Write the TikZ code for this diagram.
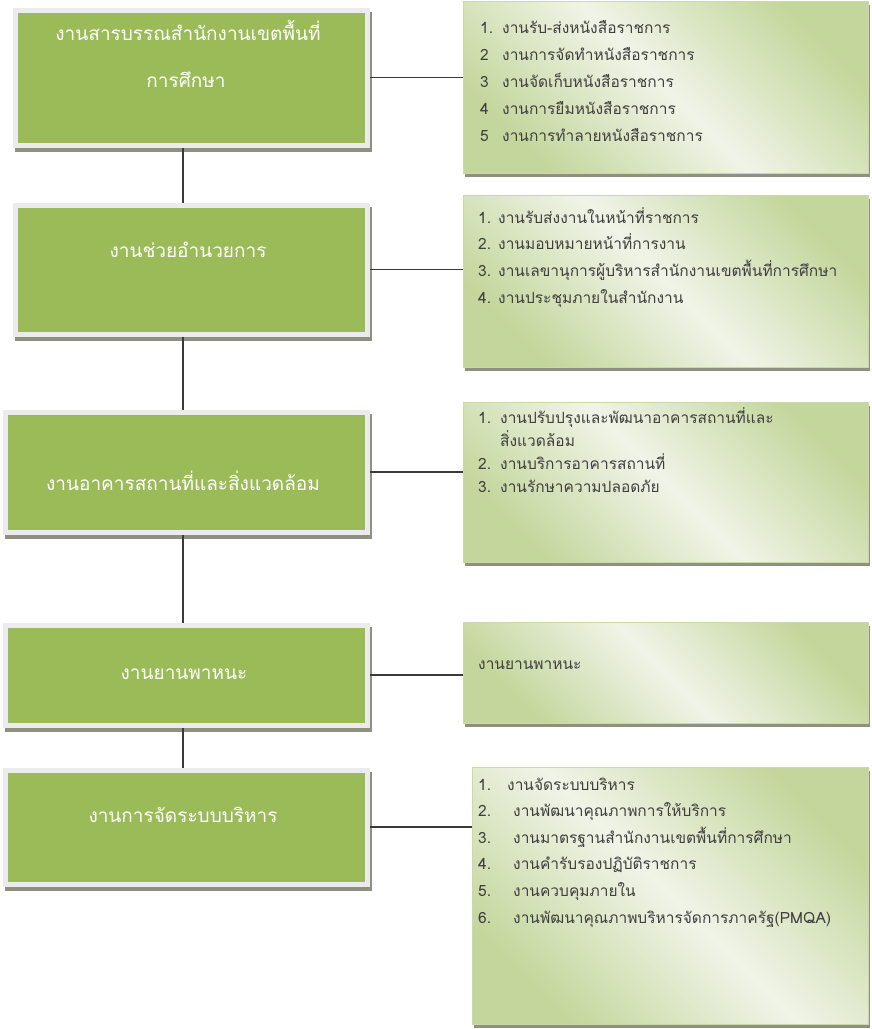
\documentclass[tikz,border=0pt]{standalone}
\usepackage{fontspec}
\newfontfamily\thaifont[Script=Thai]{Loma}
\usetikzlibrary{positioning}
\definecolor{headgreen}{HTML}{9BBB59}
\definecolor{framegray}{HTML}{EBEBEB}
\definecolor{shadowgray}{HTML}{8E9080}
\definecolor{listgreen}{HTML}{C3D69B}
\definecolor{listlight}{HTML}{F0F4E8}
\definecolor{listedge}{HTML}{C9DAA8}
\definecolor{textgray}{HTML}{3F3F3F}
\definecolor{linegray}{HTML}{3A3A3A}
\tikzstyle{link} = [draw=linegray, line width=1.3pt]
\tikzstyle{head} = [draw=framegray, line width=5pt, fill=headgreen, inner sep=0pt,
  preaction={draw=shadowgray, fill=shadowgray, transform canvas={xshift=2pt,yshift=-4pt}}]
\tikzstyle{list} = [draw=listedge, line width=1pt, inner sep=0pt,
  top color=listgreen, bottom color=listgreen, middle color=listlight, shading angle=-45,
  preaction={fill=shadowgray, transform canvas={xshift=1pt,yshift=-3pt}}]

\begin{document}
\begin{tikzpicture}[x=1pt,y=-1pt]
\tikzset{title/.style={text=white,font=\thaifont\fontsize{19}{23}\selectfont,anchor=base,inner sep=0pt},
item/.style={text=textgray,font=\thaifont\fontsize{15.5}{18}\selectfont,anchor=base west,inner sep=0pt}}
\useasboundingbox (0,0) rectangle (871,1029);
\coordinate (spine) at (183,0);

% left boxes
\node[head,minimum width=352pt,minimum height=135pt,anchor=north west] (sarabun) at (12.5,7.5) {};
\node[head,minimum width=352pt,minimum height=129pt,anchor=north west] (chuay) at (12.5,202.5) {};
\node[head,minimum width=362pt,minimum height=120pt,anchor=north west] (akarn) at (2.5,409.5) {};
\node[head,minimum width=362pt,minimum height=100pt,anchor=north west] (yanpa) at (2.5,622.5) {};
\node[head,minimum width=362pt,minimum height=114pt,anchor=north west] (rabob) at (2.5,767.5) {};

\node[title] (sarabun-t1) at (188,40.5) {งานสารบรรณสำนักงานเขตพื้นที่};
\node[title] (sarabun-t2) at (186,87.5) {การศึกษา};
\node[title] (chuay-t) at (188,257.5) {งานช่วยอำนวยการ};
\node[title] (akarn-t) at (183,490.5) {งานอาคารสถานที่และสิ่งแวดล้อม};
\node[title] (yanpa-t) at (184,679.5) {งานยานพาหนะ};
\node[title] (rabob-t) at (183,822.5) {งานการจัดระบบบริหาร};

% right boxes
\node[list,minimum width=405pt,minimum height=172pt,anchor=north west] (sarabunlist) at (463,1) {};
\node[list,minimum width=405pt,minimum height=172pt,anchor=north west] (chuaylist) at (463,195) {};
\node[list,minimum width=405pt,minimum height=160pt,anchor=north west] (akarnlist) at (463,402) {};
\node[list,minimum width=405pt,minimum height=101pt,anchor=north west] (yanpalist) at (463,622) {};
\node[list,minimum width=396pt,minimum height=257pt,anchor=north west] (raboblist) at (472,767) {};

\foreach \n/\t [count=\i from 0] in {1./งานรับ-ส่งหนังสือราชการ, 2/งานการจัดทำหนังสือราชการ,
  3/งานจัดเก็บหนังสือราชการ, 4/งานการยืมหนังสือราชการ, 5/งานการทำลายหนังสือราชการ} {
\node[item] (sarabun-\i) at (480,33+27*\i) {\makebox[22pt][l]{\n}\t}; }

\foreach \n/\t [count=\i from 0] in {1./งานรับส่งงานในหน้าที่ราชการ, 2./งานมอบหมายหน้าที่การงาน,
  3./งานเลขานุการผู้บริหารสำนักงานเขตพื้นที่การศึกษา, 4./งานประชุมภายในสำนักงาน} {
\node[item] (chuay-\i) at (478,223+26.7*\i) {\makebox[20pt][l]{\n}\t}; }

\foreach \n/\t [count=\i from 0] in {1./งานปรับปรุงและพัฒนาอาคารสถานที่และ, {}/สิ่งแวดล้อม,
  2./งานบริการอาคารสถานที่, 3./งานรักษาความปลอดภัย} {
\node[item] (akarn-\i) at (478,423+23*\i) {\makebox[22pt][l]{\n}\t}; }

\node[item] (yanpa-0) at (478,669) {งานยานพาหนะ};

\node[item] (rabob-0) at (478,790) {\makebox[29pt][l]{1.}งานจัดระบบบริหาร};
\foreach \n/\t [count=\i] in {2./งานพัฒนาคุณภาพการให้บริการ, 3./งานมาตรฐานสำนักงานเขตพื้นที่การศึกษา,
  4./งานคำรับรองปฏิบัติราชการ, 5./งานควบคุมภายใน, 6./งานพัฒนาคุณภาพบริหารจัดการภาครัฐ(PMQA)} {
\node[item] (rabob-\i) at (478,790+26.6*\i) {\makebox[35pt][l]{\n}\t}; }

% connectors
\draw[link] (sarabun.east) -- (sarabun.east -| sarabunlist.west);
\draw[link] (chuay.east) -- (chuay.east -| chuaylist.west);
\draw[link] (akarn.east) -- (akarn.east -| akarnlist.west);
\draw[link] (yanpa.east) -- (yanpa.east -| yanpalist.west);
\draw[link] (rabob.east) -- (rabob.east -| raboblist.west);
\draw[link] (sarabun.south -| spine) -- (chuay.north -| spine);
\draw[link] (chuay.south -| spine) -- (akarn.north -| spine);
\draw[link] (akarn.south -| spine) -- (yanpa.north -| spine);
\draw[link] (yanpa.south -| spine) -- (rabob.north -| spine);
\end{tikzpicture}
\end{document}
